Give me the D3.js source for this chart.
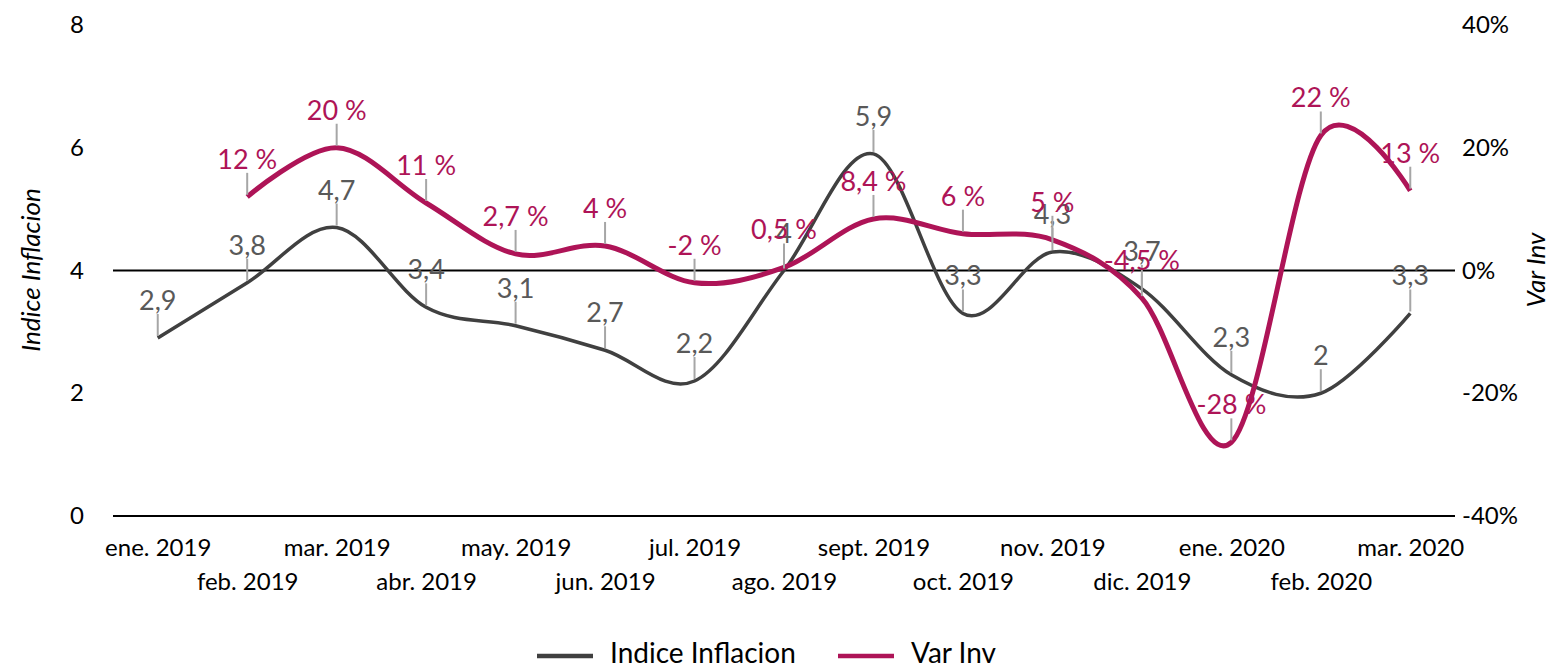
<!DOCTYPE html>
<html>
<head>
<meta charset="utf-8">
<script src="https://cdn.jsdelivr.net/npm/d3@7"></script>
<style>
  body { margin: 0; background: #fff; }
  svg { font-family: Lato, "Open Sans", sans-serif; }
</style>
</head>
<body>
<svg width="1553" height="669"></svg>
<script>
var months = ["ene. 2019", "feb. 2019", "mar. 2019", "abr. 2019", "may. 2019", "jun. 2019",
  "jul. 2019", "ago. 2019", "sept. 2019", "oct. 2019", "nov. 2019", "dic. 2019",
  "ene. 2020", "feb. 2020", "mar. 2020"];
var inflacion = [2.9, 3.8, 4.7, 3.4, 3.1, 2.7, 2.2, 4, 5.9, 3.3, 4.3, 3.7, 2.3, 2, 3.3];
var varInv = [null, 0.12, 0.20, 0.11, 0.027, 0.04, -0.02, 0.005, 0.084, 0.06, 0.05, -0.045, -0.28, 0.22, 0.13];
var leftTicks = [0, 2, 4, 6, 8];
var rightTicks = [-0.4, -0.2, 0, 0.2, 0.4];

var svg = d3.select("svg");
var gray = "#404040", crimson = "#AE1457", leader = "#A6A6A6";

// spanish style numbers, plain hyphen for negatives
var es = d3.formatLocale({decimal: ",", thousands: ".", grouping: [3], currency: ["", ""], minus: "-"});
var fmtNum = es.format("~r");
var fmtPct = function(v) { return es.format("~r")(+(v * 100).toFixed(1)) + " %"; };

var x = d3.scalePoint().domain(months).range([113, 1455]).padding(0.5);
var yL = d3.scaleLinear().domain([0, 8]).range([516, 25]);
var yR = d3.scaleLinear().domain([-0.4, 0.4]).range([516, 25]);

// axes
svg.append("g")
    .attr("transform", "translate(113,0)")
    .call(d3.axisLeft(yL).tickValues(leftTicks).tickSize(0).tickPadding(29))
    .call(g => g.select(".domain").remove())
    .selectAll("text").style("font-size", "24px").style("font-family", "Lato").attr("fill", "#000");

svg.append("g")
    .attr("transform", "translate(1455,0)")
    .call(d3.axisRight(yR).tickValues(rightTicks).tickSize(0).tickPadding(7).tickFormat(es.format(".0%")))
    .call(g => g.select(".domain").remove())
    .selectAll("text").style("font-size", "24px").style("font-family", "Lato").attr("fill", "#000");

var xAxis = svg.append("g")
    .attr("transform", "translate(0,516)")
    .call(d3.axisBottom(x).tickSize(0))
    .call(g => g.select(".domain").remove());
xAxis.selectAll("text")
    .style("font-size", "24px").style("font-family", "Lato").attr("fill", "#000")
    .attr("dy", null)
    .attr("y", (d, i) => i % 2 === 0 ? 34 : 68)
    .attr("dominant-baseline", "middle");

svg.append("line").attr("x1", 113).attr("x2", 1455)
    .attr("y1", yL(0)).attr("y2", yL(0)).attr("stroke", "#000").attr("stroke-width", 2);
svg.append("line").attr("x1", 113).attr("x2", 1455)
    .attr("y1", yR(0)).attr("y2", yR(0)).attr("stroke", "#000").attr("stroke-width", 2);

// axis titles
svg.append("text")
    .attr("transform", "translate(33,270) rotate(-90)")
    .attr("text-anchor", "middle").attr("dominant-baseline", "middle")
    .style("font-size", "26px").style("font-style", "italic").text("Indice Inflacion");
svg.append("text")
    .attr("transform", "translate(1538,270) rotate(-90)")
    .attr("text-anchor", "middle").attr("dominant-baseline", "middle")
    .style("font-size", "26px").style("font-style", "italic").text("Var Inv");

// lines
var curve = d3.curveCardinal.tension(0);
var lineInf = d3.line().x((d, i) => x(months[i])).y(d => yL(d)).curve(curve);
var lineVar = d3.line().defined(d => d !== null).x((d, i) => x(months[i])).y(d => yR(d)).curve(curve);

svg.append("path").datum(inflacion).attr("d", lineInf)
    .attr("fill", "none").attr("stroke", gray).attr("stroke-width", 3.5);
svg.append("path").datum(varInv).attr("d", lineVar)
    .attr("fill", "none").attr("stroke", crimson).attr("stroke-width", 5);

// data labels with leader lines
function labels(data, yScale, color, fmt) {
    var pts = data.map((d, i) => ({v: d, m: months[i]})).filter(p => p.v !== null);
    var g = svg.append("g");
    g.selectAll("line").data(pts).enter().append("line")
        .attr("x1", p => x(p.m)).attr("x2", p => x(p.m))
        .attr("y1", p => yScale(p.v) - 24).attr("y2", p => yScale(p.v) - 2)
        .attr("stroke", leader).attr("stroke-width", 2);
    g.selectAll("text").data(pts).enter().append("text")
        .attr("x", p => x(p.m)).attr("y", p => yScale(p.v) - 28)
        .attr("text-anchor", "middle")
        .style("font-size", "27px").attr("fill", color)
        .text(p => fmt(p.v));
}
labels(inflacion, yL, "#595959", fmtNum);
labels(varInv, yR, crimson, fmtPct);

// legend
var legend = [{name: "Indice Inflacion", color: gray, x: 537}, {name: "Var Inv", color: crimson, x: 838}];
var lg = svg.append("g").selectAll("g").data(legend).enter().append("g");
lg.append("line").attr("x1", d => d.x).attr("x2", d => d.x + 56)
    .attr("y1", 656).attr("y2", 656).attr("stroke", d => d.color).attr("stroke-width", 4.5);
lg.append("text").attr("x", d => d.x + 73).attr("y", 656)
    .attr("dominant-baseline", "middle").style("font-size", "28px").attr("fill", "#000")
    .text(d => d.name);
</script>
</body>
</html>
